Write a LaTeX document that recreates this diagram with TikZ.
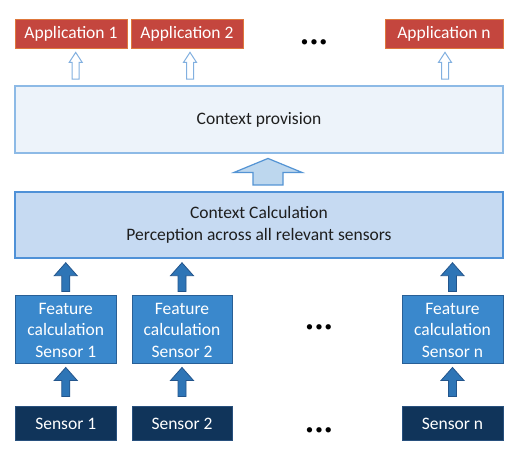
\documentclass[tikz,border=0pt]{standalone}
\usepackage{fontspec}
\setmainfont{Carlito}
\usetikzlibrary{calc}
\definecolor{appred}{RGB}{196,70,62}
\definecolor{apporange}{RGB}{222,120,60}
\definecolor{cpfill}{RGB}{237,243,250}
\definecolor{cpdraw}{RGB}{141,186,230}
\definecolor{ccfill}{RGB}{198,218,242}
\definecolor{ccdraw}{RGB}{79,145,215}
\definecolor{featfill}{RGB}{58,136,204}
\definecolor{featdraw}{RGB}{40,95,150}
\definecolor{sensfill}{RGB}{16,52,90}
\definecolor{sensdraw}{RGB}{40,80,125}
\definecolor{darrfill}{RGB}{46,117,182}
\definecolor{darrdraw}{RGB}{35,85,140}
\definecolor{barrfill}{RGB}{189,215,238}
\definecolor{barrdraw}{RGB}{84,148,212}
\definecolor{harrdraw}{RGB}{130,176,224}
\definecolor{txt}{RGB}{30,30,30}
% x centre taken from the source node
\newcommand\blockarrow[9]{%
  \path[#1] let \p1=($(#2.north)+(#4,#8)$), \p2=($(#3.south)+(#4,-#9)$) in
    (\x1-#5,\y1) -- (\x1-#5,\y2-#7) -- (\x1-#6,\y2-#7) -- (\x1,\y2)
    -- (\x1+#6,\y2-#7) -- (\x1+#5,\y2-#7) -- (\x1+#5,\y1) -- cycle;}
% x centre taken from the target node
\newcommand\blockarrowto[9]{%
  \path[#1] let \p1=($(#2.north)+(#4,#8)$), \p2=($(#3.south)+(#4,-#9)$) in
    (\x2-#5,\y1) -- (\x2-#5,\y2-#7) -- (\x2-#6,\y2-#7) -- (\x2,\y2)
    -- (\x2+#6,\y2-#7) -- (\x2+#5,\y2-#7) -- (\x2+#5,\y1) -- cycle;}
\begin{document}
\begin{tikzpicture}[x=1pt,y=1pt,
  base/.style={inner sep=0pt, align=center, font=\fontsize{17.5}{21.5}\selectfont},
  appbox/.style={base, fill=appred, draw=apporange, line width=0.8pt, text=white, minimum height=29pt},
  cpbox/.style={base, fill=cpfill, draw=cpdraw, line width=1.5pt, text=txt, minimum width=488pt},
  ccbox/.style={base, fill=ccfill, draw=ccdraw, line width=1.5pt, text=txt, minimum width=488pt},
  featbox/.style={base, fill=featfill, draw=featdraw, line width=1pt, text=white, minimum height=68pt},
  sensbox/.style={base, fill=sensfill, draw=sensdraw, line width=1pt, text=white, minimum height=34pt},
  darr/.style={fill=darrfill, draw=darrdraw, line width=0.8pt, line join=miter},
  barr/.style={fill=barrfill, draw=barrdraw, line width=1.2pt, line join=miter},
  harr/.style={fill=white, draw=harrdraw, line width=1pt, line join=miter},
  dots/.style={inner sep=0pt, font=\fontsize{15}{15}\selectfont, text=black}
]
\useasboundingbox[fill=white] (0,0) rectangle (517,454);
% applications
\node[appbox, minimum width=112pt] (a1) at (71,420.5) {Application 1};
\node[appbox, minimum width=112pt] (a2) at (187,420.5) {Application 2};
\node[appbox, minimum width=118pt] (an) at (444,420.5) {Application n};
\node[dots] (d1) at (314,411) {\textbullet\hspace{2pt}\textbullet\hspace{2pt}\textbullet};
% context provision
\node[cpbox, minimum height=67pt] (cp) at (259,334.5) {Context provision};
% context calculation
\node[ccbox, minimum height=66pt] (cc) at (259,229) {Context Calculation\\Perception across all relevant sensors};
% feature calculation
\node[featbox, minimum width=100.5pt] (f1) at (65.75,124) {Feature\\calculation\\Sensor 1};
\node[featbox, minimum width=100pt] (f2) at (182,124) {Feature\\calculation\\Sensor 2};
\node[featbox, minimum width=101pt] (fn) at (452.5,124) {Feature\\calculation\\Sensor n};
\node[dots] (d2) at (319,126) {\textbullet\hspace{2pt}\textbullet\hspace{2pt}\textbullet};
% sensors
\node[sensbox, minimum width=100.5pt] (s1) at (65.75,30) {Sensor 1};
\node[sensbox, minimum width=100pt] (s2) at (182,30) {Sensor 2};
\node[sensbox, minimum width=101pt] (sn) at (452.5,30) {Sensor n};
\node[dots] (d3) at (319,23) {\textbullet\hspace{2pt}\textbullet\hspace{2pt}\textbullet};
% arrows sensor -> feature
\blockarrow{darr}{s1}{f1}{0}{4}{11.5}{13}{10}{3}
\blockarrow{darr}{s2}{f2}{0}{4}{11.5}{13}{10}{3}
\blockarrow{darr}{sn}{fn}{0}{4}{11.5}{13}{10}{3}
% arrows feature -> context calculation
\blockarrow{darr}{f1}{cc}{0}{4}{11.5}{13}{4}{4}
\blockarrow{darr}{f2}{cc}{0}{4}{11.5}{13}{4}{4}
\blockarrow{darr}{fn}{cc}{0}{4}{11.5}{13}{4}{4}
% big arrow
\blockarrow{barr}{cc}{cp}{9}{15}{34}{14}{6.3}{4.7}
% hollow arrows
\blockarrowto{harr}{cp}{a1}{4.7}{3.5}{6.5}{10}{6}{4}
\blockarrowto{harr}{cp}{a2}{3}{3.5}{6.5}{10}{6}{4}
\blockarrowto{harr}{cp}{an}{1}{3.5}{6.5}{10}{6}{4}
\end{tikzpicture}
\end{document}
